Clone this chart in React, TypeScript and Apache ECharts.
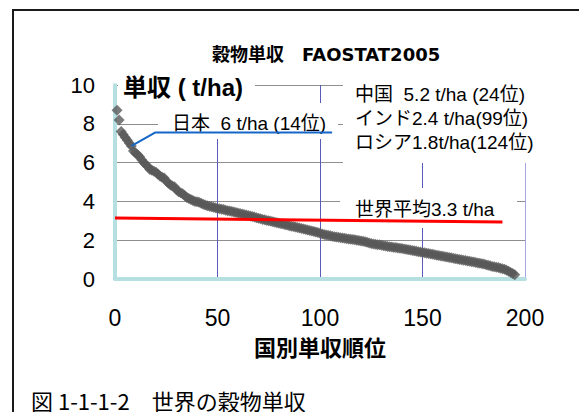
import React, { useEffect, useRef } from "react";
import * as echarts from "echarts";

// Cereal yield by country rank (t/ha), FAOSTAT 2005
const yieldValues: number[] = [
  8.7, 8.2, 7.6, 7.45, 7.3, 7.15, 7.0, 6.85, 6.6, 6.5,
  6.4, 6.3, 6.15, 6.0, 5.9, 5.8, 5.65, 5.6, 5.55, 5.5,
  5.4, 5.3, 5.25, 5.2, 5.05, 4.95, 4.85, 4.8, 4.75, 4.6,
  4.5, 4.45, 4.4, 4.3, 4.2, 4.15, 4.1, 4.05, 4.0, 3.98,
  3.95, 3.9, 3.85, 3.82, 3.78, 3.75, 3.72, 3.7, 3.67, 3.64,
  3.62, 3.6, 3.58, 3.55, 3.52, 3.5, 3.48, 3.45, 3.43, 3.4,
  3.38, 3.35, 3.33, 3.3, 3.27, 3.25, 3.22, 3.2, 3.16, 3.13,
  3.1, 3.07, 3.05, 3.02, 3.0, 2.98, 2.95, 2.93, 2.9, 2.87,
  2.85, 2.83, 2.8, 2.78, 2.75, 2.72, 2.7, 2.68, 2.65, 2.63,
  2.6, 2.58, 2.55, 2.52, 2.5, 2.48, 2.45, 2.42, 2.4, 2.36,
  2.32, 2.3, 2.27, 2.25, 2.23, 2.2, 2.18, 2.16, 2.15, 2.13,
  2.11, 2.1, 2.08, 2.06, 2.05, 2.03, 2.02, 2.0, 1.98, 1.96,
  1.95, 1.92, 1.89, 1.85, 1.83, 1.81, 1.79, 1.77, 1.76, 1.74,
  1.72, 1.7, 1.68, 1.66, 1.65, 1.63, 1.62, 1.6, 1.59, 1.57,
  1.55, 1.53, 1.51, 1.49, 1.47, 1.45, 1.43, 1.41, 1.39, 1.37,
  1.35, 1.33, 1.31, 1.29, 1.27, 1.25, 1.23, 1.21, 1.19, 1.17,
  1.15, 1.13, 1.11, 1.09, 1.07, 1.05, 1.03, 1.01, 0.99, 0.97,
  0.95, 0.93, 0.91, 0.89, 0.87, 0.85, 0.83, 0.81, 0.79, 0.77,
  0.74, 0.71, 0.68, 0.65, 0.63, 0.61, 0.59, 0.56, 0.53, 0.5,
  0.45, 0.4, 0.34, 0.28, 0.22,
];

// hand-drawn world-average line (rank, t/ha)
const worldAvgLine: number[][] = [
  [0, 3.14],
  [189, 2.94],
];
// Japan callout leader (rank, t/ha)
const japanLeader: number[][] = [
  [8.1, 6.86],
  [19.5, 7.55],
  [105.9, 7.55],
];

const xTicks = { min: 0, max: 200, interval: 50 };
const yTicks = { min: 0, max: 10, interval: 2 };

const titleText = "穀物単収　FAOSTAT2005";
const yUnitText = "単収 ( t/ha)";
const xNameText = "国別単収順位";
const japanText = "日本  6 t/ha (14位)";
const countryTexts = [
  "中国  5.2 t/ha (24位)",
  "インド2.4 t/ha(99位)",
  "ロシア1.8t/ha(124位)",
];
const worldAvgText = "世界平均3.3 t/ha";
const captionText = "図 1-1-1-2　世界の穀物単収";

const SANS = "'Liberation Sans', Arial, 'Noto Sans CJK JP', sans-serif";

export default function App() {
  const ref = useRef<HTMLDivElement>(null);
  useEffect(() => {
    if (!ref.current) return;
    const chart = echarts.init(ref.current, null, { renderer: "svg" });
    const scatterData = yieldValues.map((v, i) => [i + 1, v]);
    chart.setOption({
      animation: false,
      backgroundColor: "#ffffff",
      title: {
        text: titleText,
        left: 207,
        top: 40,
        textStyle: {
          fontFamily: "'DejaVu Sans', 'Noto Sans CJK JP', sans-serif",
          fontSize: 18,
          fontWeight: "bold",
          color: "#000",
        },
      },
      grid: { left: 115, right: 54, top: 85, bottom: 133 },
      xAxis: {
        type: "value",
        min: xTicks.min,
        max: xTicks.max,
        interval: xTicks.interval,
        name: xNameText,
        nameLocation: "middle",
        nameGap: 56,
        nameTextStyle: {
          fontFamily: "'Noto Sans CJK JP', sans-serif",
          fontSize: 22,
          fontWeight: "bold",
          color: "#000",
        },
        axisLine: { show: true, onZero: false, lineStyle: { color: "#b6dfe2", width: 4 } },
        axisTick: { show: false },
        axisLabel: { margin: 27, fontSize: 23, color: "#000", fontFamily: SANS },
        splitLine: {
          show: true,
          lineStyle: {
            color: ["#5a5ab8", "#5a5ab8", "#5a5ab8", "#5a5ab8", "#a6a6e0"],
            width: 1,
          },
        },
      },
      yAxis: {
        type: "value",
        min: yTicks.min,
        max: yTicks.max,
        interval: yTicks.interval,
        axisLine: { show: true, onZero: false, lineStyle: { color: "#b6dfe2", width: 4 } },
        axisTick: { show: false },
        axisLabel: { margin: 20, fontSize: 22, color: "#000", fontFamily: SANS },
        splitLine: { show: true, lineStyle: { color: "#8e8e8e", width: 1 } },
      },
      graphic: [
        // outer frame
        {
          type: "rect",
          z: 1,
          shape: { x: 13, y: 10, width: 620, height: 460 },
          style: { fill: "none", stroke: "#1a1a1a", lineWidth: 2 },
        },
        // white label boxes over gridlines
        { type: "rect", z: 1, shape: { x: 118, y: 70, width: 137, height: 33 }, style: { fill: "#fff" } },
        { type: "rect", z: 1, shape: { x: 158, y: 103, width: 180, height: 36 }, style: { fill: "#fff" } },
        { type: "rect", z: 1, shape: { x: 343, y: 70, width: 236, height: 93 }, style: { fill: "#fff" } },
        { type: "rect", z: 1, shape: { x: 340, y: 188, width: 177, height: 40 }, style: { fill: "#fff" } },
        {
          type: "text",
          z: 3,
          x: 123,
          y: 87,
          style: {
            text: yUnitText,
            fontFamily: SANS,
            fontSize: 24,
            fontWeight: "bold",
            fill: "#000",
            textVerticalAlign: "middle",
          },
        },
        {
          type: "text",
          z: 3,
          x: 172,
          y: 123,
          style: { text: japanText, fontFamily: SANS, fontSize: 19, fill: "#000", textVerticalAlign: "middle" },
        },
        ...countryTexts.map((t, i) => ({
          type: "text",
          z: 3,
          x: 355,
          y: 94 + i * 24,
          style: { text: t, fontFamily: SANS, fontSize: 19, fill: "#000", textVerticalAlign: "middle" },
        })),
        {
          type: "text",
          z: 3,
          x: 355,
          y: 209,
          style: { text: worldAvgText, fontFamily: SANS, fontSize: 19, fill: "#000", textVerticalAlign: "middle" },
        },
        {
          type: "text",
          z: 3,
          x: 31,
          y: 389,
          style: {
            text: captionText,
            fontFamily: "'Noto Sans CJK JP', sans-serif",
            fontSize: 22,
            fill: "#000",
            textVerticalAlign: "top",
          },
        },
      ],
      series: [
        {
          type: "scatter",
          z: 2,
          data: scatterData,
          symbol: "diamond",
          symbolSize: 11,
          itemStyle: { color: "#595959" },
        },
        {
          type: "line",
          z: 4,
          data: worldAvgLine,
          symbol: "none",
          lineStyle: { color: "#ff0000", width: 3 },
        },
        {
          type: "line",
          z: 4,
          data: japanLeader,
          symbol: "none",
          lineStyle: { color: "#1466c8", width: 2 },
        },
      ],
    });
    return () => chart.dispose();
  }, []);
  return (
    <div
      ref={ref}
      style={{ position: "fixed", left: 0, top: 0, width: 579, height: 412, background: "#fff" }}
    />
  );
}
